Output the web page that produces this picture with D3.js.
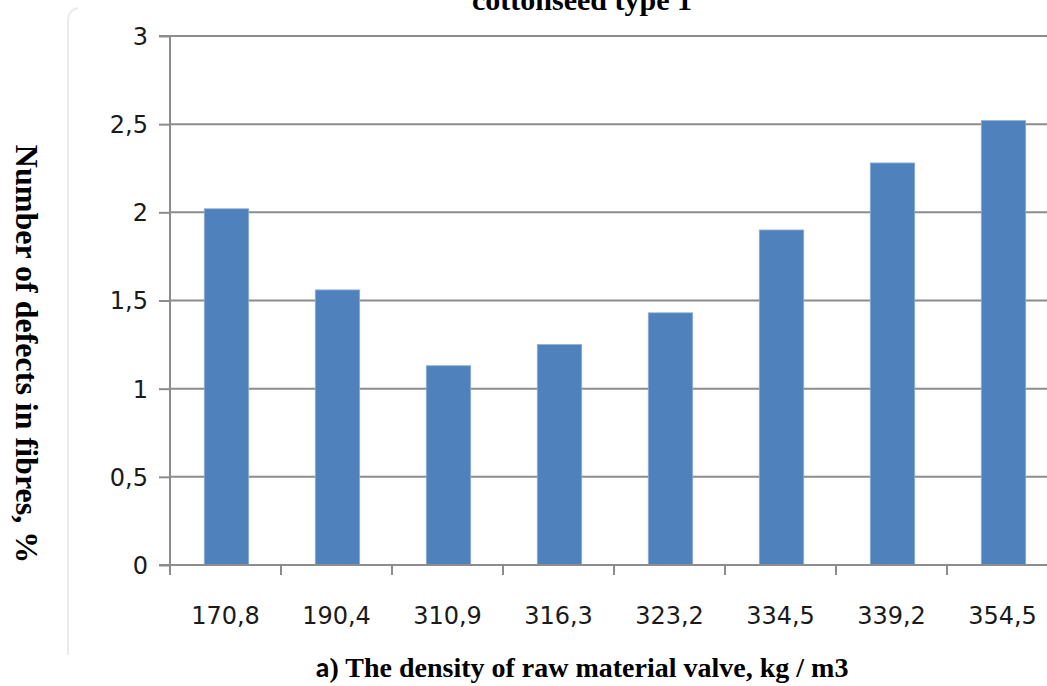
<!DOCTYPE html>
<html>
<head>
<meta charset="utf-8">
<script src="https://cdn.jsdelivr.net/npm/d3@7"></script>
<style>
  html, body { margin: 0; padding: 0; background: #fff; }
  svg { display: block; }
</style>
</head>
<body>
<svg id="chart" width="1047" height="686"></svg>
<script>
const categories = ["170,8", "190,4", "310,9", "316,3", "323,2", "334,5", "339,2", "354,5"];
const values = [2.02, 1.56, 1.13, 1.25, 1.43, 1.90, 2.28, 2.52];
const yTicks = [0, 0.5, 1, 1.5, 2, 2.5, 3];
const titleText = "cottonseed type 1";
const yTitle = "Number of defects in fibres, %";
const xTitlePrefix = "a";
const xTitleRest = ") The density of raw material valve, kg / m3";

const svg = d3.select("#chart");
const plot = { left: 170, right: 1058, top: 36, bottom: 565 };

const x = d3.scaleBand().domain(categories).range([plot.left, plot.right]).paddingInner(0).paddingOuter(0);
const y = d3.scaleLinear().domain([0, 3]).range([plot.bottom, plot.top]);

const axisColor = "#8c8c8c";
const labelFont = "'DejaVu Sans', Verdana, sans-serif";
const serif = "'Liberation Serif', 'Times New Roman', serif";

// faint chart-area border (left side, rounded corner)
svg.append("path")
  .attr("d", `M 68 655 L 68 20 Q 68 10 78 8`)
  .attr("fill", "none")
  .attr("stroke", "#e8ecef")
  .attr("stroke-width", 2);

// gridlines
svg.append("g")
  .selectAll("line")
  .data(yTicks.filter(d => d > 0))
  .join("line")
  .attr("x1", plot.left)
  .attr("x2", plot.right)
  .attr("y1", d => y(d))
  .attr("y2", d => y(d))
  .attr("stroke", axisColor)
  .attr("stroke-width", 2);

// bars
const bw = x.bandwidth() * 0.4;
svg.append("g")
  .selectAll("rect")
  .data(values)
  .join("rect")
  .attr("x", (d, i) => x(categories[i]) + (x.bandwidth() - bw) / 2 + 1)
  .attr("y", d => y(d))
  .attr("width", bw)
  .attr("height", d => y(0) - y(d))
  .attr("fill", "#4f81bd")
  .attr("stroke", "#8aaed6")
  .attr("stroke-width", 0.8);

// y axis
const yAxis = d3.axisLeft(y)
  .tickValues(yTicks)
  .tickSize(11)
  .tickPadding(11)
  .tickFormat(d => String(d).replace(".", ","));
const gy = svg.append("g").attr("transform", `translate(${plot.left},0)`).call(yAxis);
gy.select(".domain").attr("stroke", axisColor).attr("stroke-width", 2).attr("d", `M-11,${plot.top}H0V${plot.bottom}`);
gy.selectAll(".tick line").attr("stroke", axisColor).attr("stroke-width", 2);
gy.selectAll(".tick text")
  .attr("font-family", labelFont)
  .attr("font-size", 24)
  .attr("fill", "#1a1a1a")
  .attr("dy", "0.35em");

// x axis with ticks at band boundaries
const gx = svg.append("g").attr("transform", `translate(0,${plot.bottom})`);
gx.append("line")
  .attr("x1", plot.left - 11).attr("x2", plot.right)
  .attr("y1", 0).attr("y2", 0)
  .attr("stroke", axisColor).attr("stroke-width", 2);
const boundaries = categories.map(c => x(c)).concat([plot.right]);
gx.selectAll("line.tk")
  .data(boundaries)
  .join("line")
  .attr("class", "tk")
  .attr("x1", d => d).attr("x2", d => d)
  .attr("y1", 0).attr("y2", 10)
  .attr("stroke", axisColor).attr("stroke-width", 2);
gx.selectAll("text")
  .data(categories)
  .join("text")
  .attr("x", d => x(d) + x.bandwidth() / 2)
  .attr("y", 59)
  .attr("text-anchor", "middle")
  .attr("font-family", labelFont)
  .attr("font-size", 24)
  .attr("fill", "#1a1a1a")
  .text(d => d);

// title (cut off at top, as in the reference)
svg.append("text")
  .attr("x", 582)
  .attr("y", 10)
  .attr("text-anchor", "middle")
  .attr("font-family", serif)
  .attr("font-weight", "bold")
  .attr("font-size", 30)
  .attr("fill", "#000")
  .text(titleText);

// y title rotated
svg.append("text")
  .attr("transform", "translate(16,354) rotate(90)")
  .attr("text-anchor", "middle")
  .attr("font-family", serif)
  .attr("font-weight", "bold")
  .attr("font-size", 32)
  .attr("fill", "#000")
  .text(yTitle);

// x title
const xt = svg.append("text")
  .attr("x", 582)
  .attr("y", 677)
  .attr("text-anchor", "middle")
  .attr("font-weight", "bold")
  .attr("font-size", 28)
  .attr("fill", "#000");
xt.append("tspan").attr("font-family", "Carlito, 'Open Sans', sans-serif").text(xTitlePrefix);
xt.append("tspan").attr("font-family", serif).text(xTitleRest);
</script>
</body>
</html>
